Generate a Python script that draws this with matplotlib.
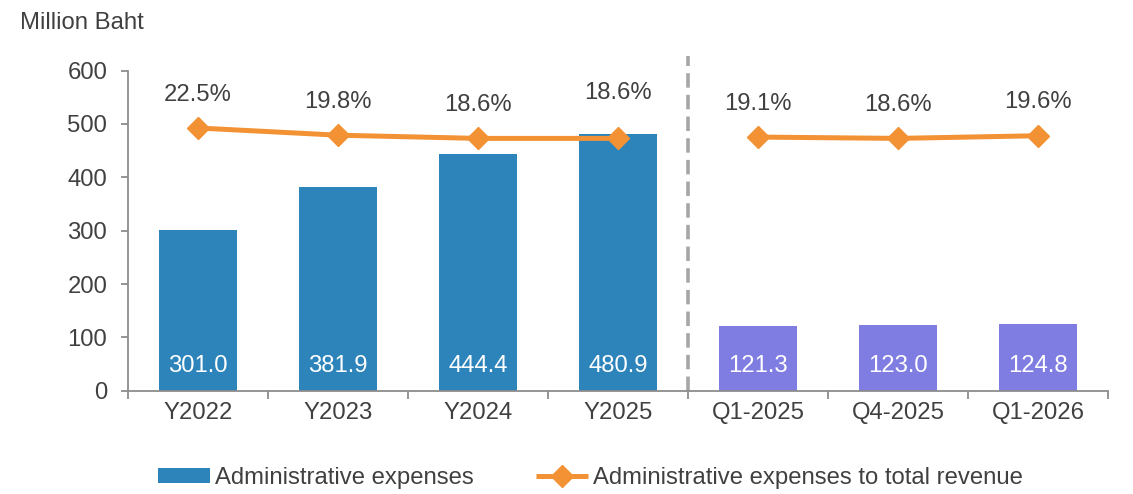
import matplotlib
matplotlib.use('Agg')
import matplotlib.pyplot as plt
from matplotlib.patches import Patch
from matplotlib.lines import Line2D
import numpy as np

plt.rcParams['font.family'] = ['Liberation Sans', 'DejaVu Sans']

# ------------ DATA ----------------------------

categories = ['Y2022', 'Y2023', 'Y2024', 'Y2025', 'Q1-2025', 'Q4-2025', 'Q1-2026']
expenses = [301.0, 381.9, 444.4, 480.9, 121.3, 123.0, 124.8]
ratio_pct = [22.5, 19.8, 18.6, 18.6, 19.1, 18.6, 19.6]
n_years = 4  # first four are full years, the rest are quarters

# ------------ STYLE ----------------------------

TXT = '#404040'
GRID = '#8C8C8C'
BLUE = '#2C84BB'
PURPLE = '#7F7DE1'
ORANGE = '#F39234'
FS = 17.2

# label offsets above the markers (points); Y2025 sits higher to clear the bar
pct_offsets = [24, 24, 24, 33, 24, 24, 24]

fig = plt.figure(figsize=(11.33, 4.94), dpi=100)
ax = fig.add_axes([0.113, 0.209, 0.865, 0.648])

x = np.arange(len(categories))
colors = [BLUE] * n_years + [PURPLE] * (len(categories) - n_years)
ax.bar(x, expenses, width=0.555, color=colors, zorder=2)

for xi, v in zip(x, expenses):
    ax.text(xi, 47, '{:.1f}'.format(v), color='white', fontsize=FS,
            ha='center', va='center', zorder=3)

ax.set_xlim(-0.5, len(categories) - 0.5)
ax.set_ylim(0, 600)
ax.set_yticks(np.arange(0, 601, 100))

ax.set_xticks(x)
ax.set_xticklabels(categories)
ax.set_xticks(np.arange(-0.5, len(categories), 1.0), minor=True)
ax.tick_params(axis='x', which='major', length=0, pad=8, labelsize=FS, labelcolor=TXT)
ax.tick_params(axis='x', which='minor', length=5.5, width=1.3, color=GRID, direction='out')
ax.tick_params(axis='y', length=5, width=1.3, color=GRID, pad=10, labelsize=FS, labelcolor=TXT)

for side in ['top', 'right']:
    ax.spines[side].set_visible(False)
for side in ['left', 'bottom']:
    ax.spines[side].set_color(GRID)
    ax.spines[side].set_linewidth(1.3)

# separator between annual and quarterly figures
ax.plot([n_years - 0.5, n_years - 0.5], [0, 627], color='#A6A6A6', lw=2.6,
        ls=(0, (4, 2)), clip_on=False, zorder=1)

# ratio on hidden secondary axis
ax2 = ax.twinx()
ax2.set_ylim(-76, 44)
ax2.axis('off')
line_kw = dict(color=ORANGE, lw=3.6, marker='D', ms=11.5, solid_capstyle='butt')
ax2.plot(x[:n_years], ratio_pct[:n_years], **line_kw)
ax2.plot(x[n_years:], ratio_pct[n_years:], **line_kw)
for xi, p, off in zip(x, ratio_pct, pct_offsets):
    ax2.annotate('{:.1f}%'.format(p), (xi, p), xytext=(0, off), textcoords='offset points',
                 ha='center', va='center', fontsize=FS, color=TXT)

fig.text(0.018, 0.953, 'Million Baht', fontsize=FS, color=TXT, ha='left', va='center')

handles = [Patch(facecolor=BLUE, edgecolor='none'),
           Line2D([], [], **line_kw)]
labels = ['Administrative expenses', 'Administrative expenses to total revenue']
fig.legend(handles, labels, loc='center', bbox_to_anchor=(0.521, 0.033), ncol=2,
           frameon=False, fontsize=FS, labelcolor=TXT, handlelength=2.2,
           handletextpad=0.2, columnspacing=2.6, handleheight=0.6)

fig.savefig('out.png', dpi=100)
